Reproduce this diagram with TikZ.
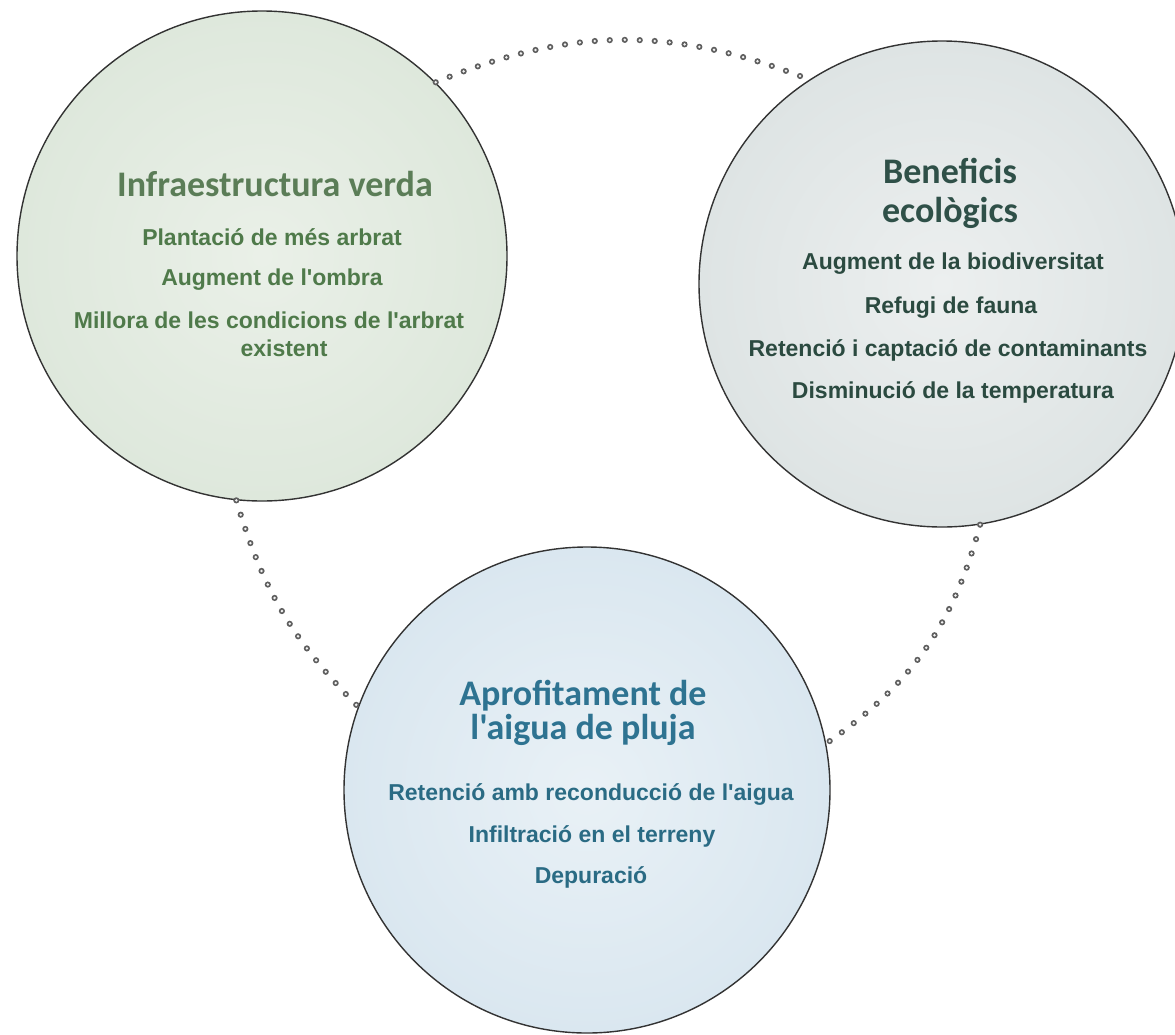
\documentclass[tikz,border=0pt]{standalone}
\usepackage{fontspec}
\newfontfamily\titlef{Carlito}
\newfontfamily\bodyf{Liberation Sans}
\definecolor{fillA}{HTML}{DEE8DC}
\definecolor{fillAin}{HTML}{EAF0E8}
\definecolor{fillB}{HTML}{DEE4E4}
\definecolor{fillBin}{HTML}{ECEFEF}
\definecolor{fillC}{HTML}{DAE7F0}
\definecolor{fillCin}{HTML}{E9F1F6}
\definecolor{ttlA}{HTML}{5B7D57}
\definecolor{txtA}{HTML}{4F7A4A}
\definecolor{ttlB}{HTML}{2F5048}
\definecolor{txtB}{HTML}{2B4A40}
\definecolor{ttlC}{HTML}{2E7391}
\definecolor{txtC}{HTML}{2A6B84}
\definecolor{ring}{HTML}{5E5E5E}
\begin{document}
\begin{tikzpicture}[x=1pt,y=-1pt,
  bubble/.style={circle, draw=black!80, line width=1.4pt, inner sep=0pt},
  ttl/.style={font=\titlef\bfseries\fontsize{36}{40}\selectfont, anchor=base, inner sep=0pt},
  txt/.style={font=\bodyf\bfseries\fontsize{23}{27}\selectfont, anchor=base, inner sep=0pt},
  ringout/.style={draw=ring, line width=6.2pt, line cap=round, dash pattern=on 0pt off 15pt},
  ringlink/.style={draw=white!90!gray, line width=2.8pt, line cap=round, dash pattern=on 0pt off 15pt, preaction={ringout}}
]
\useasboundingbox (0,0) rectangle (1175,1034);
\clip (0,0) rectangle (1175,1034);
\fill[white] (0,0) rectangle (1175,1034);

\node[bubble, minimum size=490pt, inner color=fillAin, outer color=fillA] (c1) at (262,256) {};
\node[bubble, minimum size=486pt, inner color=fillBin, outer color=fillB] (c2) at (942,284) {};
\node[bubble, minimum size=486pt, inner color=fillCin, outer color=fillC] (c3) at (587,790) {};

\draw[ringlink] (c1.45) to[bend left=22] (c2.123);
\draw[ringlink] (c1.264) to[bend right=14] (c3.160);
\draw[ringlink] (c2.279) to[bend left=20] (c3.11);

% circle 1
\node[ttl, text=ttlA] (a0) at (275,196) {Infraestructura verda};
\node[txt, text=txtA] (a1) at (272,245) {Plantació de més arbrat};
\node[txt, text=txtA] (a2) at (272,285) {Augment de l'ombra};
\node[txt, text=txtA] (a3) at (269,328) {Millora de les condicions de l'arbrat};
\node[txt, text=txtA] (a4) at (284,356) {existent};

% circle 2
\node[ttl, text=ttlB] (b0) at (950,183) {Beneficis};
\node[ttl, text=ttlB] (b1) at (950,222) {ecològics};
\node[txt, text=txtB] (b2) at (953,269) {Augment de la biodiversitat};
\node[txt, text=txtB] (b3) at (951,313) {Refugi de fauna};
\node[txt, text=txtB] (b4) at (948,356) {Retenció i captació de contaminants};
\node[txt, text=txtB] (b5) at (953,398) {Disminució de la temperatura};

% circle 3
\node[ttl, text=ttlC] (d0) at (583,705) {Aprofitament de};
\node[ttl, text=ttlC] (d1) at (583,739) {l'aigua de pluja};
\node[txt, text=txtC] (d2) at (591,800) {Retenció amb reconducció de l'aigua};
\node[txt, text=txtC] (d3) at (592,842) {Infiltració en el terreny};
\node[txt, text=txtC] (d4) at (591,883) {Depuració};
\end{tikzpicture}
\end{document}
